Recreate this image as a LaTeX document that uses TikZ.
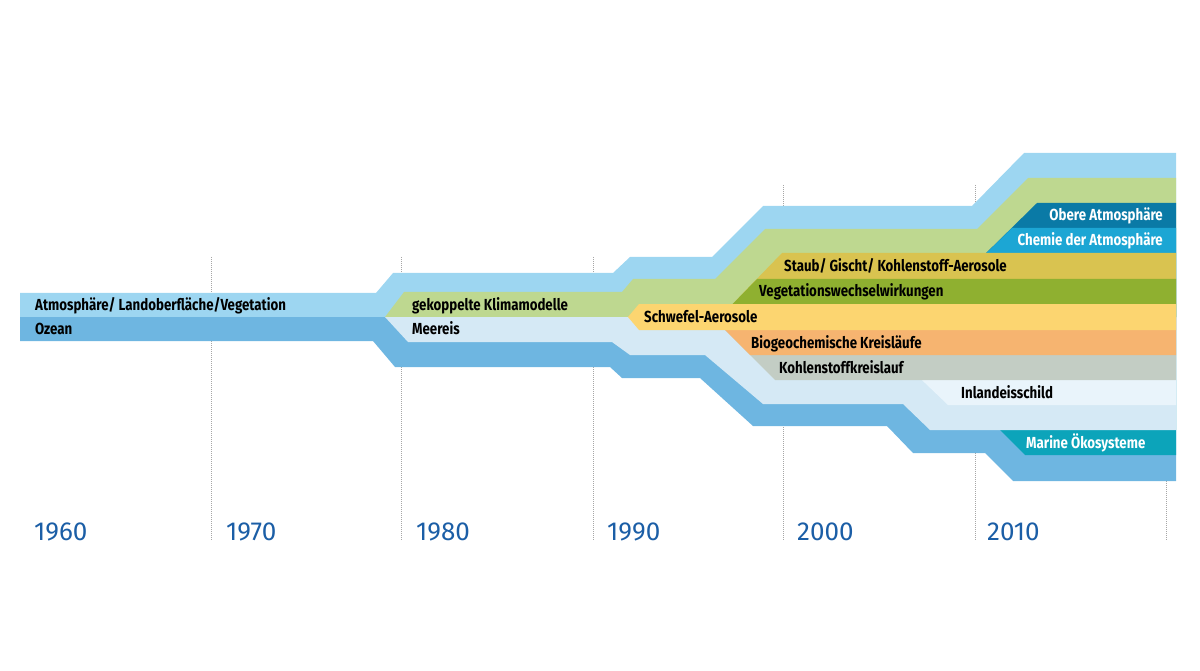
\documentclass[tikz,border=0pt]{standalone}
\usepackage{fontspec}
\setmainfont{Fira Sans}
\newfontfamily\bandfont{Fira Sans}[FakeStretch=0.83]
\usepackage{xcolor}
\usepackage{tikz}
\definecolor{atmblue}{RGB}{157,214,241}
\definecolor{oceanblue}{RGB}{110,182,225}
\definecolor{coupledgreen}{RGB}{190,216,144}
\definecolor{seaice}{RGB}{213,233,245}
\definecolor{sulfur}{RGB}{252,213,112}
\definecolor{dust}{RGB}{217,195,80}
\definecolor{vegetation}{RGB}{143,176,48}
\definecolor{biogeo}{RGB}{246,180,112}
\definecolor{carbon}{RGB}{195,205,196}
\definecolor{icesheet}{RGB}{233,244,251}
\definecolor{marine}{RGB}{12,164,186}
\definecolor{upperatm}{RGB}{10,122,166}
\definecolor{chematm}{RGB}{28,166,212}
\definecolor{yearblue}{RGB}{27,94,166}

\begin{document}
\begin{tikzpicture}[x=1pt,y=-1pt,
	lbl/.style={font=\bandfont\bfseries\fontsize{16}{16}\selectfont,inner sep=0pt,anchor=base west},
	year/.style={font=\fontsize{26}{26}\selectfont,text=yearblue,inner sep=0pt,anchor=base west},
	decade/.style={gray!70,line width=0.8pt,dash pattern=on 1pt off 1pt}]
		\useasboundingbox (0,0) rectangle (1200,671);
		\draw[decade] (211.7,257) -- (211.7,541);
		\draw[decade] (401.5,257) -- (401.5,541);
		\draw[decade] (593,257) -- (593,541);
		\draw[decade] (783,185) -- (783,541);
		\draw[decade] (975,185) -- (975,541);
		\draw[decade] (1166,185) -- (1166,541);
		\fill[atmblue] (20,293) -- (376,293) -- (393,273) -- (613,273) -- (630,257) -- (712,257) -- (763,206) -- (972,206) -- (1024,153) -- (1176,153) -- (1176,317) -- (20,317) -- cycle;
		\fill[coupledgreen] (385,317) -- (404,292) -- (622,292) -- (633,279) -- (715,279) -- (765,229) -- (977,229) -- (1028,178) -- (1176,178) -- (1176,317) -- cycle;
		\fill[upperatm] (921,317) -- (1037,203) -- (1176,203) -- (1176,317) -- cycle;
		\fill[chematm] (921,317) -- (1012,228) -- (1176,228) -- (1176,317) -- cycle;
		\fill[dust] (720,317) -- (782,253) -- (1176,253) -- (1176,317) -- cycle;
		\fill[vegetation] (720,317) -- (757,279) -- (1176,279) -- (1176,317) -- cycle;
		\fill[oceanblue] (20,317) -- (20,341) -- (373,341) -- (395,367) -- (610,367) -- (622,378) -- (700,378) -- (753,426) -- (887,426) -- (913,453) -- (985,453) -- (1013,481) -- (1176,481) -- (1176,317) -- cycle;
		\fill[marine] (887,317) -- (1025,455) -- (1176,455) -- (1176,317) -- cycle;
		\fill[seaice] (385,317) -- (408,342) -- (612,342) -- (630,355) -- (705,355) -- (763,404) -- (903,404) -- (930,430) -- (1176,430) -- (1176,317) -- cycle;
		\fill[icesheet] (856,317) -- (948,405) -- (1176,405) -- (1176,317) -- cycle;
		\fill[carbon] (712,317) -- (775,380) -- (1176,380) -- (1176,317) -- cycle;
		\fill[biogeo] (712,317) -- (750,355) -- (1176,355) -- (1176,317) -- cycle;
		\fill[sulfur] (628,317) -- (639,304) -- (1176,304) -- (1176,330) -- (639,330) -- cycle;
		\node[lbl] (atm) at (35,310.5) {Atmosphäre/ Landoberfläche/Vegetation};
		\node[lbl] (ocean) at (35,334.5) {Ozean};
		\node[lbl] (coupled) at (412,310) {gekoppelte Klimamodelle};
		\node[lbl] (ice) at (412,334.5) {Meereis};
		\node[lbl] (sulf) at (644,322.5) {Schwefel-Aerosole};
		\node[lbl] (dst) at (784,271.5) {Staub/ Gischt/ Kohlenstoff-Aerosole};
		\node[lbl] (veg) at (759,297) {Vegetationswechselwirkungen};
		\node[lbl,text=white,anchor=base east] (upper) at (1163,221) {Obere Atmosphäre};
		\node[lbl,text=white,anchor=base east] (chem) at (1163,246) {Chemie der Atmosphäre};
		\node[lbl] (bgc) at (751,348) {Biogeochemische Kreisläufe};
		\node[lbl] (cc) at (779,373) {Kohlenstoffkreislauf};
		\node[lbl] (sheet) at (961,398) {Inlandeisschild};
		\node[lbl,text=white] (mar) at (1026,448) {Marine Ökosysteme};
		\node[year] (y1960) at (34,540) {1960};
		\node[year] (y1970) at (226,540) {1970};
		\node[year] (y1980) at (416,540) {1980};
		\node[year] (y1990) at (607,540) {1990};
		\node[year] (y2000) at (797,540) {2000};
		\node[year] (y2010) at (987,540) {2010};
	\end{tikzpicture}
\end{document}
